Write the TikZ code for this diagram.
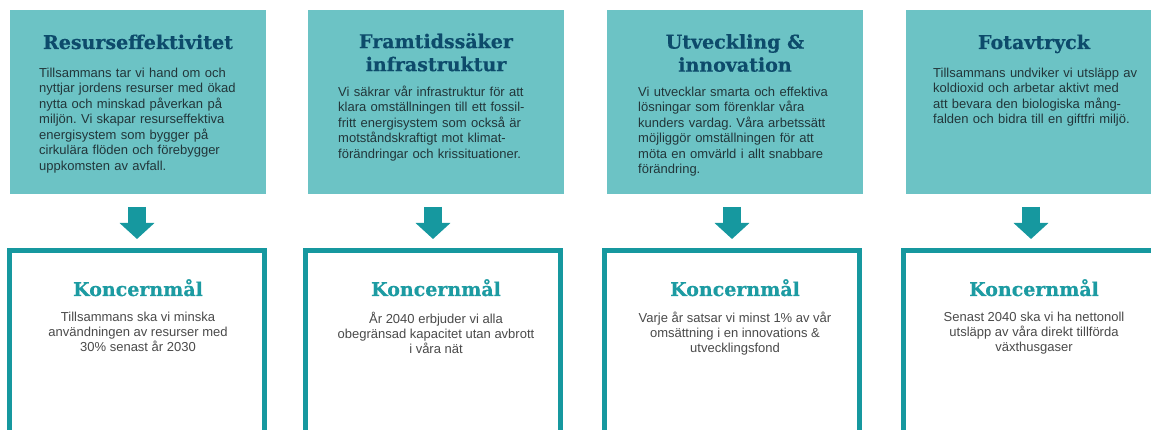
\documentclass[tikz,border=0pt]{standalone}
\usepackage{fontspec}
\setmainfont{Liberation Sans}
\newfontfamily\titlefont{DejaVu Serif}[BoldFont={DejaVu Serif Bold},BoldFeatures={FakeBold=0.5}]
\usetikzlibrary{arrows.meta}
\definecolor{topfill}{HTML}{6CC3C5}
\definecolor{navy}{HTML}{0D4B6B}
\definecolor{tealc}{HTML}{16989F}
\definecolor{goalc}{HTML}{1C9BA2}
\definecolor{bodydark}{HTML}{22363A}
\definecolor{bodygray}{HTML}{4A4A4A}
\frenchspacing
\begin{document}
\begin{tikzpicture}[x=1pt,y=-1pt,
  topbox/.style={fill=topfill, draw=none, minimum width=256pt, minimum height=184pt, inner sep=0pt, outer sep=0pt, anchor=north west},
  goalbox/.style={draw=tealc, line width=5pt, fill=white, minimum width=255pt, minimum height=300pt, inner sep=0pt, anchor=north west},
  toptitle/.style={font=\titlefont\bfseries\fontsize{19}{23}\selectfont, text=navy, align=center, inner sep=0pt},
  topbody/.style={font=\frenchspacing\fontsize{13}{15.5}\selectfont, text=bodydark, align=left, text width=236pt, inner sep=0pt, anchor=north west},
  goaltitle/.style={font=\titlefont\bfseries\fontsize{19}{23}\selectfont, text=goalc, inner sep=0pt, anchor=base},
  goalbody/.style={font=\frenchspacing\fontsize{13}{15}\selectfont, text=bodygray, align=center, inner sep=0pt, anchor=north},
  downarrow/.style={draw=tealc, line width=18pt, -{Triangle[width=34pt,length=16pt]}}
]
\useasboundingbox (0,0) rectangle (1151,430);
\clip (0,0) rectangle (1151,430);

% top boxes
\node[topbox] (t1) at (10,10) {};
\node[topbox] (t2) at (308,10) {};
\node[topbox] (t3) at (607,10) {};
\node[topbox] (t4) at (906,10) {};

% goal boxes
\node[goalbox] (b1) at (7,248) {};
\node[goalbox] (b2) at (303,248) {};
\node[goalbox] (b3) at (602,248) {};
\node[goalbox] (b4) at (901,248) {};

% arrows
\draw[downarrow] ([yshift=-13pt]b1.north |- t1.south) -- ([yshift=9pt]b1.north);
\draw[downarrow] ([yshift=-13pt]b2.north |- t2.south) -- ([yshift=9pt]b2.north);
\draw[downarrow] ([yshift=-13pt]b3.north |- t3.south) -- ([yshift=9pt]b3.north);
\draw[downarrow] ([yshift=-13pt]b4.north |- t4.south) -- ([yshift=9pt]b4.north);

% top titles
\node[toptitle, anchor=base] (h1) at (138,49) {Resurseffektivitet};
\node[toptitle, anchor=north] (h2) at (436,33) {Framtidssäker\\infrastruktur};
\node[toptitle, anchor=north] (h3) at (735,34) {Utveckling \&\\innovation};
\node[toptitle, anchor=base] (h4) at (1034,49) {Fotavtryck};

% top bodies
\node[topbody] (p1) at (39,67.5) {Tillsammans tar vi hand om och\\nyttjar jordens resurser med ökad\\nytta och minskad påverkan på\\miljön. Vi skapar resurseffektiva\\energisystem som bygger på\\cirkulära flöden och förebygger\\uppkomsten av avfall.};
\node[topbody] (p2) at (338,85.5) {Vi säkrar vår infrastruktur för att\\klara omställningen till ett fossil-\\fritt energisystem som också är\\motståndskraftigt mot klimat-\\förändringar och krissituationer.};
\node[topbody] (p3) at (638,86.5) {Vi utvecklar smarta och effektiva\\lösningar som förenklar våra\\kunders vardag. Våra arbetssätt\\möjliggör omställningen för att\\möta en omvärld i allt snabbare\\förändring.};
\node[topbody] (p4) at (933,67.5) {Tillsammans undviker vi utsläpp av\\koldioxid och arbetar aktivt med\\att bevara den biologiska mång-\\falden och bidra till en giftfri miljö.};

% goal titles
\node[goaltitle] (g1) at (138,296) {Koncernmål};
\node[goaltitle] (g2) at (436,296) {Koncernmål};
\node[goaltitle] (g3) at (735,296) {Koncernmål};
\node[goaltitle] (g4) at (1034,296) {Koncernmål};

% goal bodies
\node[goalbody] (q1) at (138,311.5) {Tillsammans ska vi minska\\användningen av resurser med\\30\% senast år 2030};
\node[goalbody] (q2) at (436,311.5) {År 2040 erbjuder vi alla\\obegränsad kapacitet utan avbrott\\i våra nät};
\node[goalbody] (q3) at (735,311.5) {Varje år satsar vi minst 1\% av vår\\omsättning i en innovations \&\\utvecklingsfond};
\node[goalbody] (q4) at (1034,311.5) {Senast 2040 ska vi ha nettonoll\\utsläpp av våra direkt tillförda\\växthusgaser};
\end{tikzpicture}
\end{document}
